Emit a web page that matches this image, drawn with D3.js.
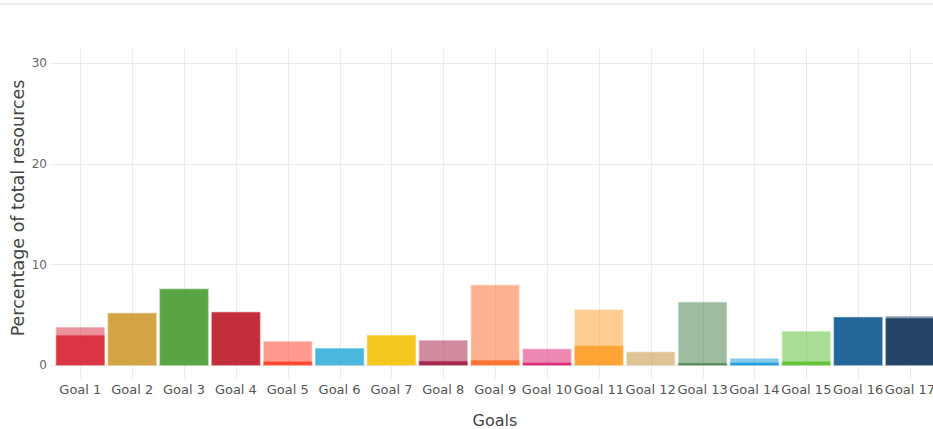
<!DOCTYPE html>
<html><head><meta charset="utf-8">
<script src="https://cdn.jsdelivr.net/npm/d3@7"></script>
<style>
html,body{margin:0;padding:0;background:#fff;overflow:hidden;}
svg{display:block;font-family:"DejaVu Sans",Verdana,sans-serif;}
</style></head>
<body>
<svg id="chart" width="933" height="429"></svg>
<script>
const categories = ["Goal 1","Goal 2","Goal 3","Goal 4","Goal 5","Goal 6","Goal 7","Goal 8","Goal 9","Goal 10","Goal 11","Goal 12","Goal 13","Goal 14","Goal 15","Goal 16","Goal 17"];
const totalValues  = [3.7, 5.1, 7.5, 5.2, 2.3, 1.6, 2.9, 2.4, 7.9, 1.55, 5.45, 1.25, 6.2, 0.6, 3.3, 4.7, 4.8];
const subsetValues = [2.9, 5.1, 7.5, 5.2, 0.3, 1.6, 2.9, 0.33, 0.43, 0.17, 1.85, 0, 0.13, 0.17, 0.3, 4.7, 4.6];
const goalColors = ["#D92536","#D29F37","#4C9F38","#BE1E2D","#FF3A21","#3CB2DD","#F4C40D","#A21942","#FD6925","#DD1367","#FD9D24","#BF8B2E","#3F7E44","#0A97D9","#56C02B","#125A92","#12355C"];
const yTicks = [0, 10, 20, 30];
const yTitle = "Percentage of total resources";
const xTitle = "Goals";

const svg = d3.select("#chart");
const W = 933;
const plotLeft = 50, plotTop = 49, plotBottom = 379;

// top border line
svg.append("rect").attr("x",0).attr("y",3).attr("width",W).attr("height",2).attr("fill","#ebebeb");

const x = d3.scaleBand().domain(categories).range([54.4, 935.9]).paddingInner(0.08).paddingOuter(0.04);
const y = d3.scaleLinear().domain([-1.4, 31.4]).range([plotBottom, plotTop]);

// horizontal grid
svg.append("g").selectAll("line").data(yTicks).join("line")
  .attr("x1", plotLeft).attr("x2", W)
  .attr("y1", d => Math.round(y(d))+0.5).attr("y2", d => Math.round(y(d))+0.5)
  .attr("stroke", "#ebebeb").attr("stroke-width", 1);

// vertical grid
svg.append("g").selectAll("line").data(categories).join("line")
  .attr("x1", d => Math.round(x(d)+x.bandwidth()/2)+0.5).attr("x2", d => Math.round(x(d)+x.bandwidth()/2)+0.5)
  .attr("y1", plotTop).attr("y2", plotBottom)
  .attr("stroke", "#ebebeb").attr("stroke-width", 1);

// y tick labels
svg.append("g").selectAll("text").data(yTicks).join("text")
  .attr("x", 47).attr("y", d => y(d)).attr("dy", "0.35em")
  .attr("text-anchor", "end").attr("font-size", 12).attr("fill", "#666")
  .text(d => d);

// bars
const bars = svg.append("g");
function drawSeries(vals, op){
  const g = bars.append("g").attr("opacity", op);
  g.selectAll("rect").data(categories).join("rect")
    .attr("x", d => x(d)).attr("width", x.bandwidth())
    .attr("y", (d,i) => y(vals[i])).attr("height", (d,i) => Math.max(0, y(0) - y(vals[i])))
    .attr("fill", (d,i) => goalColors[i])
    .attr("stroke", (d,i) => goalColors[i]).attr("stroke-opacity", 0.45).attr("stroke-width", 1.5);
}
drawSeries(totalValues, 0.5);
drawSeries(subsetValues, 0.85);

// x tick labels
svg.append("g").selectAll("text").data(categories).join("text")
  .attr("x", d => x(d)+x.bandwidth()/2).attr("y", 394)
  .attr("text-anchor", "middle").attr("font-size", 13).attr("fill", "#555")
  .text(d => d);

// axis titles
svg.append("text").attr("x", 495).attr("y", 426).attr("text-anchor","middle")
  .attr("font-size", 16).attr("fill","#444").text(xTitle);
svg.append("text").attr("transform", "translate(24,"+((y(0)+plotTop)/2+1)+") rotate(-90)")
  .attr("text-anchor","middle").attr("font-size", 17.5).attr("fill","#444").text(yTitle);
</script>
</body></html>
